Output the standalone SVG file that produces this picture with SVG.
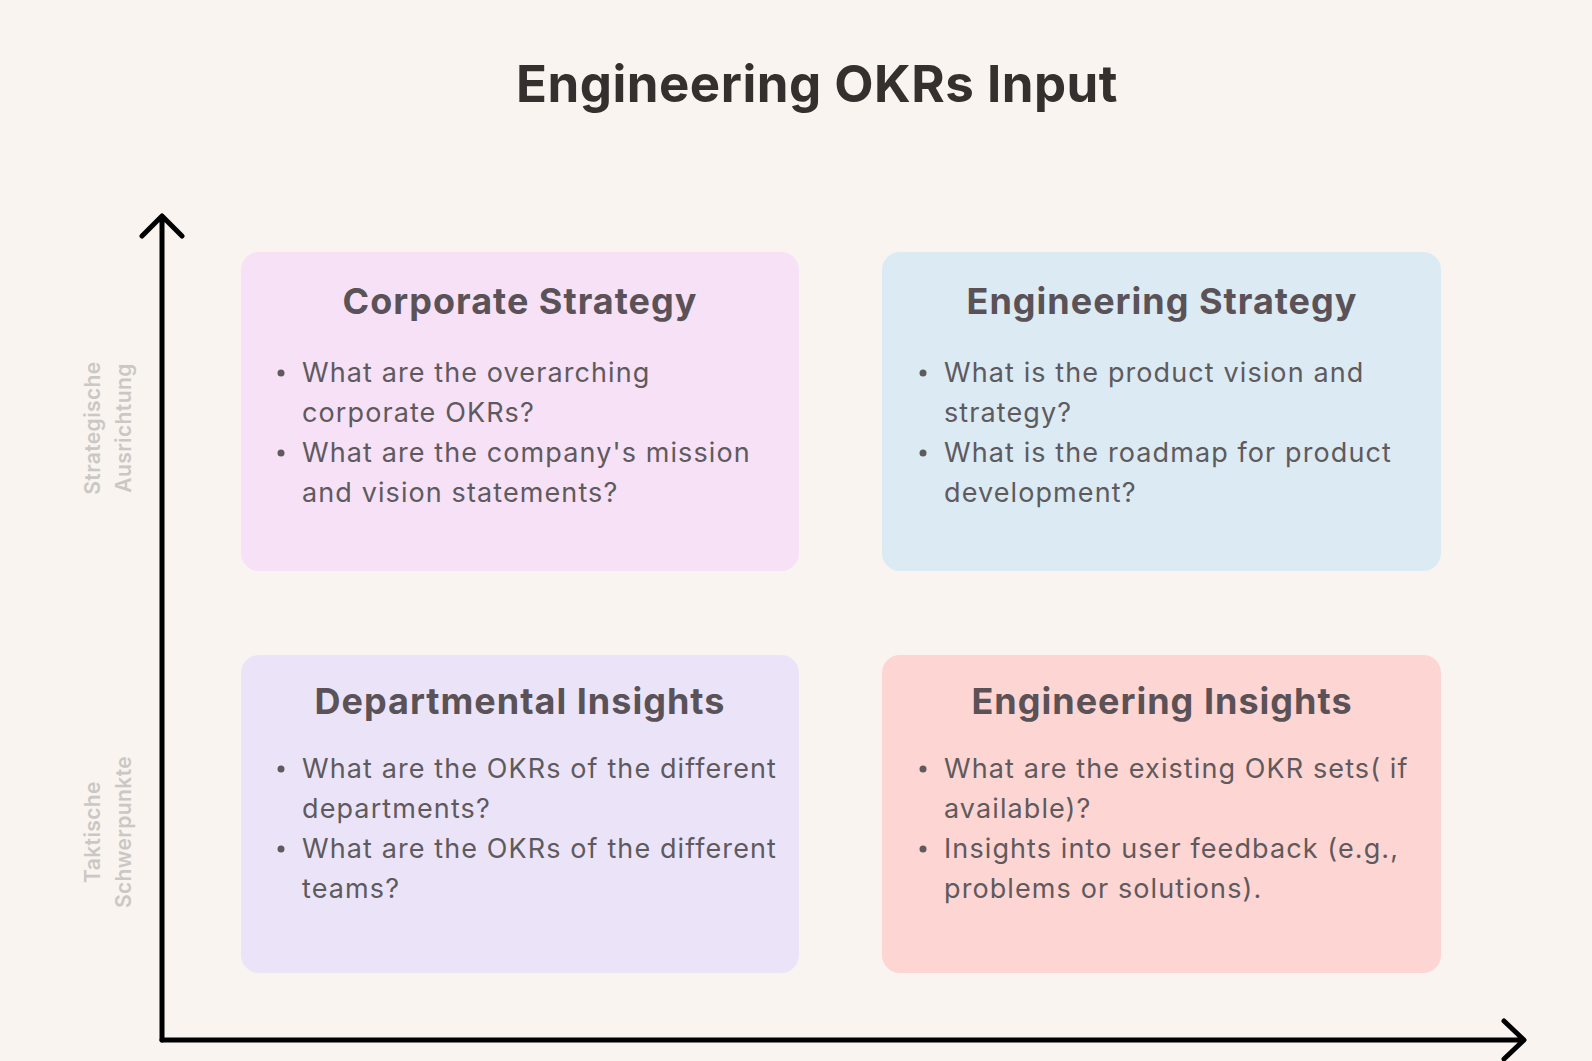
<svg xmlns="http://www.w3.org/2000/svg" width="1592" height="1061" viewBox="0 0 1592 1061">
<style>
.box{stroke:none}
.h{font-family:Inter,"Noto Sans",sans-serif;font-weight:700;font-size:36px;fill:#5a5257;text-anchor:middle;letter-spacing:1px}
.t{font-family:Inter,"Noto Sans",sans-serif;font-size:27px;fill:#5f5a5d;letter-spacing:1.1px}
.ax{font-family:Inter,"Noto Sans",sans-serif;font-weight:600;font-size:21px;fill:#cbc7c4;text-anchor:middle;letter-spacing:0.4px}
.axis{stroke:#000;stroke-width:5;fill:none;stroke-linecap:round;stroke-linejoin:round}
</style>
<rect width="1592" height="1061" fill="#f9f4ef"/>
<text x="817" y="102" font-family="Inter,'Noto Sans',sans-serif" font-weight="700" font-size="51" fill="#35302d" text-anchor="middle" letter-spacing="0.5">Engineering OKRs Input</text>
<g id="connectors">
<path class="axis" d="M162 1040 V217 M142 236 L162 216 L182 236"/>
<path class="axis" d="M162 1040 H1523 M1504 1021 L1524 1040 L1504 1059"/>
</g>
<g id="axis-labels">
<text class="ax" transform="translate(100 428) rotate(-90)">Strategische</text>
<text class="ax" transform="translate(131 428) rotate(-90)">Ausrichtung</text>
<text class="ax" transform="translate(100 832) rotate(-90)">Taktische</text>
<text class="ax" transform="translate(131 832) rotate(-90)">Schwerpunkte</text>
</g>
<g id="corporate">
<rect class="box" x="241" y="252" width="558" height="319" rx="18" fill="#f6e1f7"/>
<text class="h" x="520" y="314">Corporate Strategy</text>
<circle cx="281" cy="373" r="3.5" fill="#5f5a5d"/><circle cx="281" cy="453" r="3.5" fill="#5f5a5d"/>
<text class="t" x="302" y="382">What are the overarching</text>
<text class="t" x="302" y="422">corporate OKRs?</text>
<text class="t" x="302" y="462">What are the company's mission</text>
<text class="t" x="302" y="502">and vision statements?</text>
</g>
<g id="engstrategy">
<rect class="box" x="882" y="252" width="559" height="319" rx="18" fill="#dbeaf3"/>
<text class="h" x="1162" y="314">Engineering Strategy</text>
<circle cx="923" cy="373" r="3.5" fill="#5f5a5d"/><circle cx="923" cy="453" r="3.5" fill="#5f5a5d"/>
<text class="t" x="944" y="382">What is the product vision and</text>
<text class="t" x="944" y="422">strategy?</text>
<text class="t" x="944" y="462">What is the roadmap for product</text>
<text class="t" x="944" y="502">development?</text>
</g>
<g id="departmental">
<rect class="box" x="241" y="655" width="558" height="318" rx="18" fill="#ebe4f9"/>
<text class="h" x="520" y="714">Departmental Insights</text>
<circle cx="281" cy="769" r="3.5" fill="#5f5a5d"/><circle cx="281" cy="849" r="3.5" fill="#5f5a5d"/>
<text class="t" x="302" y="778">What are the OKRs of the different</text>
<text class="t" x="302" y="818">departments?</text>
<text class="t" x="302" y="858">What are the OKRs of the different</text>
<text class="t" x="302" y="898">teams?</text>
</g>
<g id="enginsights">
<rect class="box" x="882" y="655" width="559" height="318" rx="18" fill="#fdd5d3"/>
<text class="h" x="1162" y="714">Engineering Insights</text>
<circle cx="923" cy="769" r="3.5" fill="#5f5a5d"/><circle cx="923" cy="849" r="3.5" fill="#5f5a5d"/>
<text class="t" x="944" y="778">What are the existing OKR sets( if</text>
<text class="t" x="944" y="818">available)?</text>
<text class="t" x="944" y="858">Insights into user feedback (e.g.,</text>
<text class="t" x="944" y="898">problems or solutions).</text>
</g>
</svg>
